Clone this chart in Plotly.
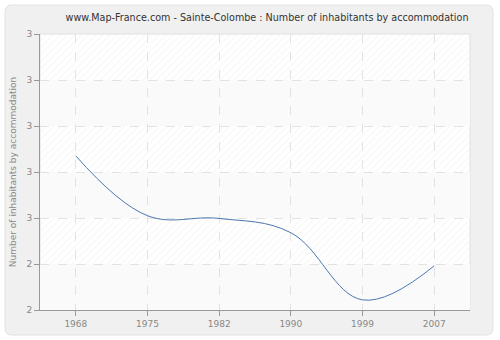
import plotly.graph_objects as go

years = ["1968", "1975", "1982", "1990", "1999", "2007"]
values = [2.335, 2.205, 2.199, 2.168, 2.022, 2.096]
ytick_vals = [2.0, 2.1, 2.2, 2.3, 2.4, 2.5, 2.6]
ytick_text = ["2", "2", "3", "3", "3", "3", "3"]

W, H = 500, 340
L, R, T, B = 40, 30, 34, 30
xpos = list(range(len(years)))

def px(x):  # pixel -> paper x
    return (x - L) / (W - L - R)

def py(y):  # pixel -> paper y
    return (H - B - y) / (H - T - B)

fig = go.Figure()

# hatched bands (every other band, starting at the second)
hb_base = ytick_vals[1:-1:2]
step = ytick_vals[1] - ytick_vals[0]
fig.add_trace(go.Bar(
    x=[(xpos[0] + xpos[-1]) / 2] * len(hb_base), y=[step] * len(hb_base), base=hb_base,
    width=len(years), marker=dict(color="rgba(0,0,0,0)", line=dict(width=0),
                                   pattern=dict(shape="/", fgcolor="#ececec", size=5, solidity=0.2)),
    hoverinfo="skip", showlegend=False))

fig.add_trace(go.Scatter(x=xpos, y=values, mode="lines",
                         line=dict(color="#4a78b0", width=1, shape="spline", smoothing=1.1),
                         showlegend=False, hoverinfo="skip"))

shapes = []
# rounded outer frame
r = 7
x0, x1, y0, y1 = 5, 493, 5, 335
path = (f"M {px(x0+r)},{py(y0)} L {px(x1-r)},{py(y0)} Q {px(x1)},{py(y0)} {px(x1)},{py(y0+r)} "
        f"L {px(x1)},{py(y1-r)} Q {px(x1)},{py(y1)} {px(x1-r)},{py(y1)} "
        f"L {px(x0+r)},{py(y1)} Q {px(x0)},{py(y1)} {px(x0)},{py(y1-r)} "
        f"L {px(x0)},{py(y0+r)} Q {px(x0)},{py(y0)} {px(x0+r)},{py(y0)} Z")
shapes.append(dict(type="path", path=path, xref="paper", yref="paper",
                   fillcolor="#f0f0f0", line=dict(color="#e2e2e2", width=1), layer="below"))
# plot area background
shapes.append(dict(type="rect", xref="paper", yref="paper", x0=0, x1=1, y0=0, y1=1,
                   fillcolor="#ffffff", line=dict(color="#e0e0e0", width=1), layer="below"))
# plain bands
for b in ytick_vals[0:-1:2]:
    shapes.append(dict(type="rect", xref="paper", yref="y", x0=0, x1=1, y0=b, y1=b + step,
                       fillcolor="#fafafa", line=dict(width=0), layer="below"))

fig.update_layout(
    width=W, height=H, margin=dict(l=L, r=R, t=T, b=B),
    paper_bgcolor="#ffffff", plot_bgcolor="#ffffff",
    font=dict(family="DejaVu Sans", size=9, color="#888888"),
    title=dict(text="www.Map-France.com - Sainte-Colombe : Number of inhabitants by accommodation",
               x=267 / W, xref="container", xanchor="center",
               y=1 - 18 / H, yref="container", yanchor="middle",
               font=dict(family="DejaVu Sans", size=9.6, color="#333333")),
    shapes=shapes,
    bargap=0,
    xaxis=dict(range=[-0.5, len(years) - 0.5], tickmode="array", tickvals=xpos, ticktext=years,
               showgrid=True, gridcolor="#e2e2e2", griddash="dash", gridwidth=1,
               showline=True, linecolor="#999999", linewidth=1,
               ticks="outside", ticklen=5, tickcolor="#999999", zeroline=False, fixedrange=True),
    yaxis=dict(range=[ytick_vals[0], ytick_vals[-1]], tickmode="array", tickvals=ytick_vals, ticktext=ytick_text,
               showgrid=True, gridcolor="#e2e2e2", griddash="dash", gridwidth=1,
               showline=True, linecolor="#999999", linewidth=1,
               ticks="outside", ticklen=5, tickcolor="#999999", zeroline=False,
               title=dict(text="Number of inhabitants by accommodation", standoff=8,
                          font=dict(family="DejaVu Sans", size=9, color="#888888"))),
)

fig.write_html("out.html")
